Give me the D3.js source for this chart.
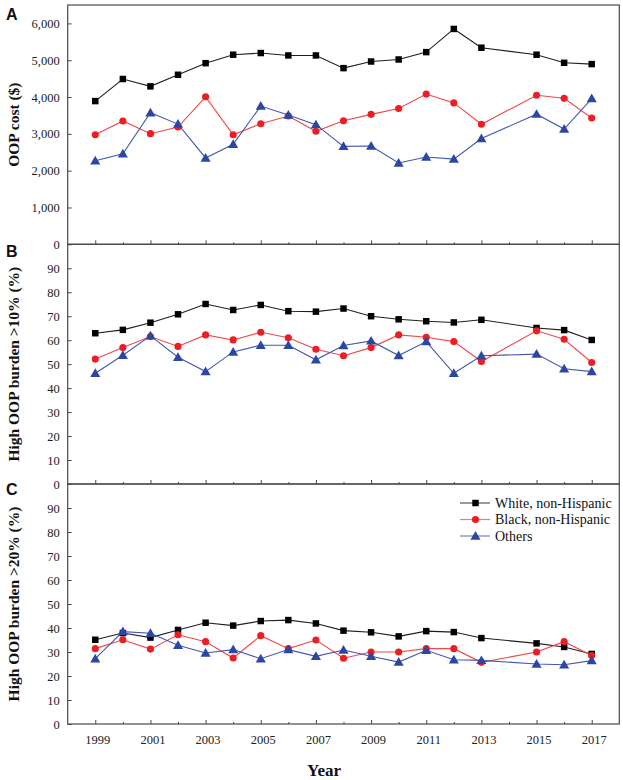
<!DOCTYPE html>
<html>
<head>
<meta charset="utf-8">
<script src="https://cdn.jsdelivr.net/npm/d3@7"></script>
<style>
  html, body { margin: 0; padding: 0; background: #fff; }
  svg { display: block; }
</style>
</head>
<body>
<svg id="chart" width="623" height="780"></svg>
<script>
// ---- Data ----
const years = [1999,2000,2001,2002,2003,2004,2005,2006,2007,2008,2009,2010,2011,2012,2013,2015,2016,2017];
const seriesNames = ["White, non-Hispanic", "Black, non-Hispanic", "Others"];

// Panel A: OOP cost ($)
const costWhite  = [3890,4490,4290,4605,4920,5150,5195,5130,5130,4785,4965,5020,5220,5850,5340,5150,4930,4895];
const costBlack  = [2975,3350,3005,3185,4005,2975,3275,3485,3070,3355,3530,3690,4080,3840,3260,4050,3965,3430];
const costOthers = [2270,2460,3575,3265,2345,2715,3755,3510,3250,2660,2670,2210,2370,2315,2875,3535,3130,3960];

// Panel B: High OOP burden >10% (%)
const b10White  = [62.9,64.3,67.3,70.8,75.1,72.6,74.7,72.1,71.9,73.2,70.0,68.7,67.9,67.4,68.5,65.1,64.2,60.1];
const b10Black  = [52.1,56.9,61.5,57.4,62.2,60.1,63.3,61.0,56.2,53.5,56.9,62.2,61.2,59.4,51.1,63.9,60.4,50.7];
const b10Others = [46.2,53.7,61.8,52.9,46.9,55.1,57.9,57.9,51.8,57.8,59.7,53.6,59.4,46.2,53.5,54.2,48.1,46.9];

// Panel C: High OOP burden >20% (%)
const b20White  = [35.1,37.9,36.0,39.2,42.2,41.0,42.9,43.3,41.9,38.9,38.2,36.5,38.7,38.3,35.8,33.6,32.1,29.2];
const b20Black  = [31.4,35.1,31.2,37.2,34.3,27.5,36.8,31.4,35.0,27.4,30.0,30.0,31.4,31.4,25.7,30.0,34.3,28.5];
const b20Others = [27.2,38.5,37.8,32.8,29.6,31.0,27.2,31.0,28.2,30.8,28.2,25.8,30.7,26.8,26.5,25.0,24.7,26.4];

const xTickYears = [1999,2000,2001,2002,2003,2004,2005,2006,2007,2008,2009,2010,2011,2012,2013,2014,2015,2016,2017];
const costTicks = [0,1000,2000,3000,4000,5000,6000];
const pctTicksB = [0,10,20,30,40,50,60,70,80,90];
const pctTicksC = [0,10,20,30,40,50,60,70,80,90];

const panels = [
  { letter: "A", title: "OOP cost ($)", max: 6500, ticks: costTicks, fmt: d3.format(","),
    data: [costWhite, costBlack, costOthers], top: 5, bottom: 244.3 },
  { letter: "B", title: "High OOP burden >10% (%)", max: 100, ticks: pctTicksB, fmt: d3.format("d"),
    data: [b10White, b10Black, b10Others], top: 244.3, bottom: 484 },
  { letter: "C", title: "High OOP burden >20% (%)", max: 100, ticks: pctTicksC, fmt: d3.format("d"),
    data: [b20White, b20Black, b20Others], top: 484, bottom: 724, legend: true }
];

// ---- Styling ----
const serif = "'Liberation Serif', 'Times New Roman', serif";
const sans = "'Liberation Sans', Arial, sans-serif";
const lineColors = ["#1f1f1f", "#f04848", "#4257b0"];
const markColors = ["#000000", "#ee1d23", "#2c47a3"];
const frameColor = "#4a4a4a";

const svg = d3.select("#chart");
const left = 67.7, right = 619.3;
const x = d3.scaleLinear().domain([1998, 2018]).range([left, right]);

const symbols = [d3.symbolSquare, d3.symbolCircle, d3.symbolTriangle];
const symSizes = [42, 40, 44];

function drawMarker(g, i, cx, cy) {
  g.append("path")
    .attr("d", d3.symbol().type(symbols[i]).size(symSizes[i])())
    .attr("transform", `translate(${cx},${cy + (i === 2 ? 0.8 : 0)})`)
    .attr("fill", markColors[i]);
}

panels.forEach(p => {
  const y = d3.scaleLinear().domain([0, p.max]).range([p.bottom, p.top]);
  const g = svg.append("g");

  // frame
  g.append("rect")
    .attr("x", left).attr("y", p.top)
    .attr("width", right - left).attr("height", p.bottom - p.top)
    .attr("fill", "none").attr("stroke", frameColor).attr("stroke-width", 1.2);

  // x ticks (inward)
  const xAxis = d3.axisTop(x).tickValues(xTickYears).tickFormat("").tickSizeOuter(0)
    .tickSize(0);
  const xg = g.append("g").attr("transform", `translate(0,${p.bottom})`).call(xAxis);
  xg.select(".domain").remove();
  xg.selectAll(".tick").append("line")
    .attr("y1", 0).attr("y2", d => (d % 2 === 1 ? -4 : -2))
    .attr("stroke", frameColor).attr("stroke-width", 1);

  // y axis (inward ticks)
  const yAxis = d3.axisLeft(y).tickValues(p.ticks).tickFormat(p.fmt).tickSize(-4).tickPadding(8);
  const yg = g.append("g").attr("transform", `translate(${left},0)`).call(yAxis);
  yg.select(".domain").remove();
  yg.selectAll(".tick line").attr("stroke", frameColor);
  yg.selectAll(".tick text")
    .attr("font-family", serif).attr("font-size", 12.5).attr("fill", "#222");

  // y title
  g.append("text")
    .attr("transform", `translate(18.5,${(p.top + p.bottom) / 2}) rotate(-90)`)
    .attr("text-anchor", "middle")
    .attr("font-family", serif).attr("font-weight", "bold").attr("font-size", 15.5)
    .attr("fill", "#111")
    .text(p.title);

  // panel letter
  const letterY = { A: 19.8, B: 256.8, C: 494.5 }[p.letter];
  g.append("text")
    .attr("x", 6).attr("y", letterY)
    .attr("font-family", sans).attr("font-weight", "bold").attr("font-size", 16)
    .attr("fill", "#111")
    .text(p.letter);

  // series
  p.data.forEach((vals, i) => {
    const pts = years.map((yr, k) => [x(yr), y(vals[k])]);
    g.append("path")
      .attr("d", d3.line()(pts))
      .attr("fill", "none").attr("stroke", lineColors[i]).attr("stroke-width", 1.1);
    const mg = g.append("g");
    pts.forEach(pt => drawMarker(mg, i, pt[0], pt[1]));
  });

  // legend
  if (p.legend) {
    const lg = g.append("g");
    const rowY = [503, 519.5, 536];
    seriesNames.forEach((name, i) => {
      lg.append("line")
        .attr("x1", 460).attr("x2", 490).attr("y1", rowY[i]).attr("y2", rowY[i])
        .attr("stroke", lineColors[i]).attr("stroke-width", 1.2).attr("stroke-opacity", 0.75);
      drawMarker(lg, i, 475.5, rowY[i]);
      lg.append("text")
        .attr("x", 495).attr("y", rowY[i] + 4.8)
        .attr("font-family", serif).attr("font-size", 14).attr("fill", "#111")
        .text(name);
    });
  }
});

// x tick labels (bottom panel only)
const labelYears = xTickYears.filter(d => d % 2 === 1);
const xl = svg.append("g").attr("transform", "translate(0,724)")
  .call(d3.axisBottom(x).tickValues(labelYears).tickFormat(d3.format("d")).tickSize(0).tickPadding(11));
xl.select(".domain").remove();
xl.selectAll(".tick text")
  .attr("dx", 2)
  .attr("font-family", serif).attr("font-size", 12.5).attr("fill", "#222");

// x title
svg.append("text")
  .attr("x", 324).attr("y", 776)
  .attr("text-anchor", "middle")
  .attr("font-family", serif).attr("font-weight", "bold").attr("font-size", 17)
  .attr("fill", "#111")
  .text("Year");
</script>
</body>
</html>
